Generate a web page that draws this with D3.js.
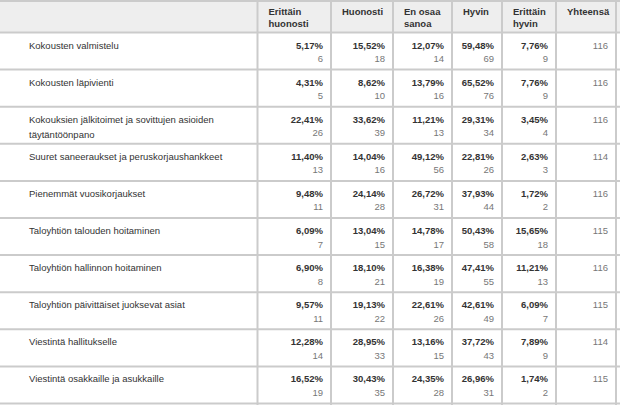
<!DOCTYPE html>
<html>
<head>
<meta charset="utf-8">
<script src="https://cdn.jsdelivr.net/npm/d3@7"></script>
<style>
  body { margin: 0; background: #fff; }
  svg { display: block; font-family: "Liberation Sans", Arial, sans-serif; }
</style>
</head>
<body>
<div id="table-area"></div>
<script>
// rows
const categories = [
  "Kokousten valmistelu",
  "Kokousten läpivienti",
  "Kokouksien jälkitoimet ja sovittujen asioiden täytäntöönpano",
  "Suuret saneeraukset ja peruskorjaushankkeet",
  "Pienemmät vuosikorjaukset",
  "Taloyhtiön talouden hoitaminen",
  "Taloyhtiön hallinnon hoitaminen",
  "Taloyhtiön päivittäiset juoksevat asiat",
  "Viestintä hallitukselle",
  "Viestintä osakkaille ja asukkaille"
];

// answer columns
const answers = ["Erittäin huonosti", "Huonosti", "En osaa sanoa", "Hyvin", "Erittäin hyvin"];
const totalLabel = "Yhteensä";

// percentages and counts per answer
const erittainHuonostiPct = [5.17, 4.31, 22.41, 11.40, 9.48, 6.09, 6.90, 9.57, 12.28, 16.52];
const erittainHuonostiN   = [6, 5, 26, 13, 11, 7, 8, 11, 14, 19];
const huonostiPct = [15.52, 8.62, 33.62, 14.04, 24.14, 13.04, 18.10, 19.13, 28.95, 30.43];
const huonostiN   = [18, 10, 39, 16, 28, 15, 21, 22, 33, 35];
const eiOsaaPct = [12.07, 13.79, 11.21, 49.12, 26.72, 14.78, 16.38, 22.61, 13.16, 24.35];
const eiOsaaN   = [14, 16, 13, 56, 31, 17, 19, 26, 15, 28];
const hyvinPct = [59.48, 65.52, 29.31, 22.81, 37.93, 50.43, 47.41, 42.61, 37.72, 26.96];
const hyvinN   = [69, 76, 34, 26, 44, 58, 55, 49, 43, 31];
const erittainHyvinPct = [7.76, 7.76, 3.45, 2.63, 1.72, 15.65, 11.21, 6.09, 7.89, 1.74];
const erittainHyvinN   = [9, 9, 4, 3, 2, 18, 13, 7, 9, 2];
const totals = [116, 116, 116, 114, 116, 115, 116, 115, 114, 115];

const pctSeries = [erittainHuonostiPct, huonostiPct, eiOsaaPct, hyvinPct, erittainHyvinPct];
const nSeries = [erittainHuonostiN, huonostiN, eiOsaaN, hyvinN, erittainHyvinN];

const width = 620, height = 405;
const headerTop = 1, headerBottom = 32.5, tableBottom = 403.5;
const fontSize = 9.5;

// column edges: label | 5 answers | total
const edges = [0, 257.5, 331, 393, 452, 502, 556, 616];
const colKeys = ["label"].concat(answers, [totalLabel]);
const x = d3.scaleOrdinal().domain(colKeys).range(edges.slice(0, -1));
const colW = k => edges[colKeys.indexOf(k) + 1] - x(k);

const y = d3.scaleBand()
  .domain(categories)
  .range([headerBottom, tableBottom])
  .padding(0);

const fmtPct = v => d3.format(".2f")(v).replace(".", ",") + "%";

const svg = d3.select("#table-area").append("svg")
  .attr("width", width)
  .attr("height", height);

const gridColor = "#cbcbcb";

// header background
svg.append("rect")
  .attr("x", 0).attr("y", headerTop)
  .attr("width", width).attr("height", headerBottom - headerTop)
  .attr("fill", "#eeeeee");

// wrap text into tspans
function wrap(textSel, maxW, lineH) {
  textSel.each(function(d) {
    const text = d3.select(this);
    const limit = typeof maxW === "function" ? maxW(d) : maxW;
    const words = text.text().split(/\s+/);
    const xPos = text.attr("x");
    text.text(null);
    let line = [];
    let tspan = text.append("tspan").attr("x", xPos).attr("dy", 0);
    words.forEach(w => {
      line.push(w);
      tspan.text(line.join(" "));
      if (tspan.node().getComputedTextLength() > limit && line.length > 1) {
        line.pop();
        tspan.text(line.join(" "));
        line = [w];
        tspan = text.append("tspan").attr("x", xPos).attr("dy", lineH).text(w);
      }
    });
  });
}

// header labels
svg.selectAll(".head")
  .data(answers.concat([totalLabel]))
  .enter().append("text")
  .attr("class", "head")
  .attr("x", d => x(d) + 11)
  .attr("y", 15)
  .attr("font-size", fontSize)
  .attr("font-weight", "bold")
  .attr("fill", "#333")
  .text(d => d)
  .call(wrap, d => colW(d) - 14, 12);

// row labels
svg.selectAll(".rowlabel")
  .data(categories)
  .enter().append("text")
  .attr("class", "rowlabel")
  .attr("x", 29)
  .attr("y", d => y(d) + 16)
  .attr("font-size", fontSize)
  .attr("fill", "#333")
  .text(d => d)
  .call(wrap, 215, 15);

// cells
answers.forEach((a, i) => {
  const g = svg.append("g");
  g.selectAll(".pct")
    .data(categories)
    .enter().append("text")
    .attr("x", x(a) + colW(a) - 8)
    .attr("y", d => y(d) + 16)
    .attr("text-anchor", "end")
    .attr("font-size", fontSize)
    .attr("font-weight", "bold")
    .attr("fill", "#333")
    .text((d, j) => fmtPct(pctSeries[i][j]));
  g.selectAll(".n")
    .data(categories)
    .enter().append("text")
    .attr("x", x(a) + colW(a) - 8)
    .attr("y", d => y(d) + 29.5)
    .attr("text-anchor", "end")
    .attr("font-size", fontSize)
    .attr("fill", "#777")
    .text((d, j) => nSeries[i][j]);
});

svg.selectAll(".total")
  .data(categories)
  .enter().append("text")
  .attr("x", x(totalLabel) + colW(totalLabel) - 8)
  .attr("y", d => y(d) + 16)
  .attr("text-anchor", "end")
  .attr("font-size", fontSize)
  .attr("fill", "#777")
  .text((d, j) => totals[j]);

// grid lines
const hLines = [headerTop, headerBottom].concat(categories.map(c => y(c) + y.bandwidth()));
svg.selectAll(".hline")
  .data(hLines)
  .enter().append("line")
  .attr("x1", 0).attr("x2", width)
  .attr("y1", d => d).attr("y2", d => d)
  .attr("stroke", gridColor)
  .attr("stroke-width", 2);

svg.selectAll(".vline")
  .data(edges.slice(1))
  .enter().append("line")
  .attr("x1", d => d).attr("x2", d => d)
  .attr("y1", headerTop).attr("y2", height)
  .attr("stroke", gridColor)
  .attr("stroke-width", 2);
</script>
</body>
</html>
